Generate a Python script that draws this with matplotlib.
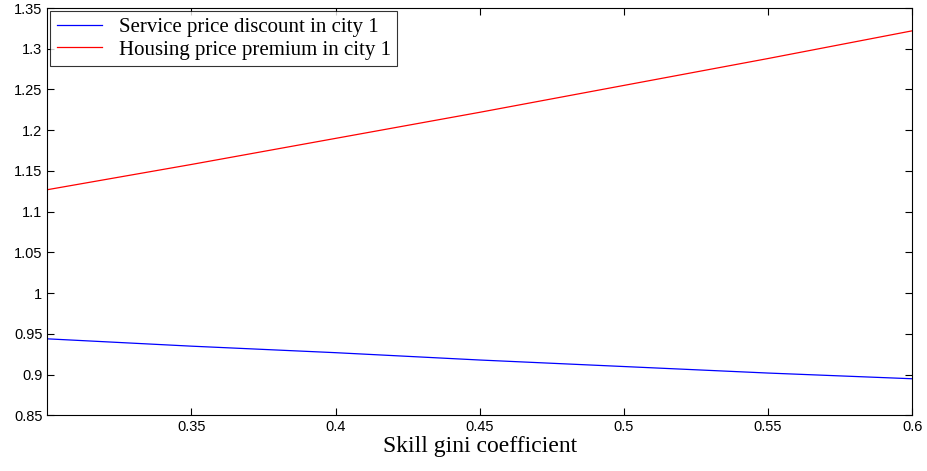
import numpy as np
import matplotlib.pyplot as plt
from matplotlib.ticker import FuncFormatter

gini = [0.30, 0.35, 0.40, 0.45, 0.50, 0.55, 0.60]
service = [0.944, 0.935, 0.927, 0.918, 0.910, 0.902, 0.895]
housing = [1.127, 1.158, 1.190, 1.222, 1.255, 1.288, 1.322]

fig = plt.figure(figsize=(9.27, 4.71), dpi=100)
ax = fig.add_axes([0.051, 0.118, 0.933, 0.865])
ax.plot(gini, service, color='blue', lw=0.9, label='Service price discount in city 1')
ax.plot(gini, housing, color='red', lw=0.9, label='Housing price premium in city 1')
ax.set_xlim(0.3, 0.6)
ax.set_ylim(0.85, 1.35)
ax.set_xticks([0.35, 0.4, 0.45, 0.5, 0.55, 0.6])
ax.set_yticks(np.arange(0.85, 1.351, 0.05))
fmt = FuncFormatter(lambda v, p: ('%.2f' % v).rstrip('0').rstrip('.'))
ax.xaxis.set_major_formatter(fmt)
ax.yaxis.set_major_formatter(fmt)
ax.tick_params(direction='in', top=True, right=True, labelsize=10.5, length=5)
for t in ax.get_xticklabels() + ax.get_yticklabels():
    t.set_family('Liberation Sans')
ax.set_xlabel('Skill gini coefficient', family='Liberation Serif', fontsize=17, labelpad=1)
leg = ax.legend(loc='upper left', prop={'family': 'Liberation Serif', 'size': 15},
                fancybox=False, edgecolor='black', borderaxespad=0.15,
                handlelength=2.2, borderpad=0.3, labelspacing=0.15)
leg.get_frame().set_linewidth(0.8)
fig.savefig('out.png')
